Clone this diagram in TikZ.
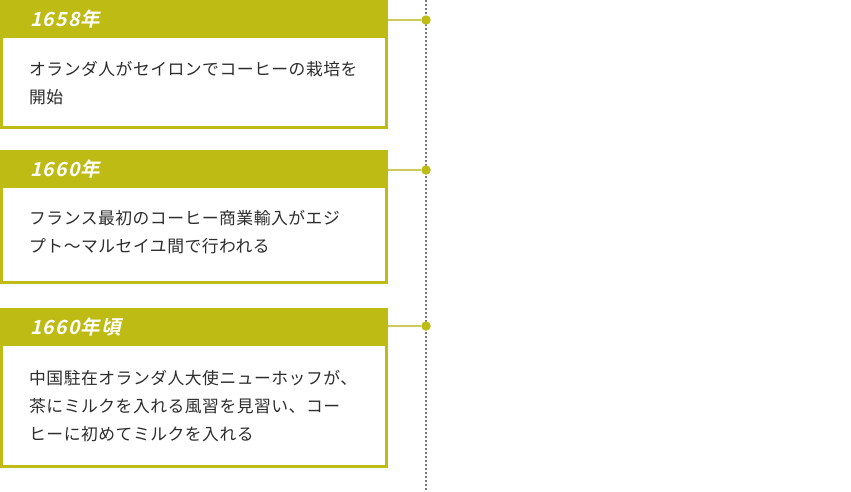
\documentclass[tikz,border=0pt]{standalone}
\usepackage{fontspec}
\newfontfamily\jpbody[LetterSpace=3]{Noto Sans CJK JP}
\newfontfamily\jphead[FakeSlant=0.22,LetterSpace=6]{Noto Sans CJK JP Bold}
\definecolor{olivebar}{RGB}{190,187,20}
\definecolor{olivelink}{RGB}{205,203,90}
\definecolor{bodytext}{RGB}{45,45,45}
\definecolor{axisgray}{RGB}{120,120,120}

\begin{document}
\begin{tikzpicture}[
    x=1pt, y=-1pt,
    head node/.style={rectangle, fill=olivebar, anchor=north west, minimum width=388pt, minimum height=38pt, inner xsep=30pt, inner ysep=0pt, text width=328pt, align=left, text=white, font=\jphead\fontsize{19.5}{20}\selectfont},
    box node/.style={rectangle, draw=olivebar, line width=3pt, fill=white, anchor=north west, minimum width=385pt, inner sep=0pt},
    body node/.style={anchor=north west, inner sep=0pt, align=left, text=bodytext, font=\jpbody\fontsize{16.8}{27.6}\selectfont},
    dot node/.style={circle, fill=olivebar, inner sep=0pt, minimum size=9.5pt},
    link edge/.style={olivelink, line width=1.5pt},
    time line/.style={axisgray, line width=2pt, dash pattern=on 2pt off 2pt}
]
\useasboundingbox (0,0) rectangle (851,491);

% 時間軸
\coordinate (Ltop) at (426,0);
\coordinate (Lbot) at (426,491);
\draw[time line] (Ltop) -- (Lbot);

% 1658年
\node[box node, minimum height=126pt] (B1) at (0,0) {};
\node[head node] (H1) at (0,0) {1658年};
\node[body node] (T1) at (29,61.5) {オランダ人がセイロンでコーヒーの栽培を\\開始};

% 1660年
\node[box node, minimum height=131pt] (B2) at (0,150) {};
\node[head node] (H2) at (0,150) {1660年};
\node[body node] (T2) at (29,210) {フランス最初のコーヒー商業輸入がエジ\\プト～マルセイユ間で行われる};

% 1660年頃
\node[box node, minimum height=157pt] (B3) at (0,308) {};
\node[head node] (H3) at (0,308) {1660年頃};
\node[body node] (T3) at (29,370.5) {中国駐在オランダ人大使ニューホッフが、\\茶にミルクを入れる風習を見習い、コー\\ヒーに初めてミルクを入れる};

% 接続点
\node[dot node] (D1) at (426,20) {};
\node[dot node] (D2) at (426,170) {};
\node[dot node] (D3) at (426,326) {};
\draw[link edge] (H1.east |- D1) -- (D1);
\draw[link edge] (H2.east |- D2) -- (D2);
\draw[link edge] (H3.east |- D3) -- (D3);

\end{tikzpicture}
\end{document}
